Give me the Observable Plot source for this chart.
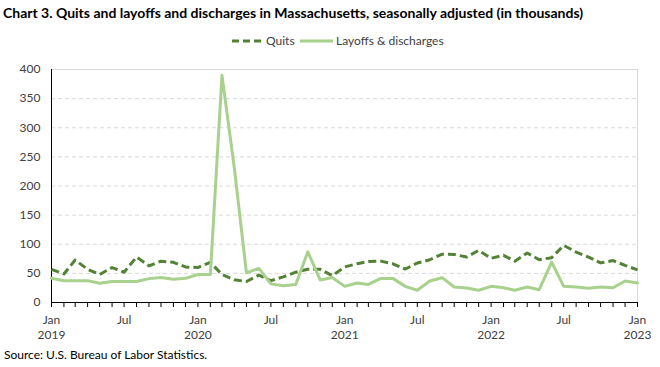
<!DOCTYPE html>
<html><head><meta charset="utf-8">
<script src="https://cdn.jsdelivr.net/npm/d3@7"></script>
<script src="https://cdn.jsdelivr.net/npm/@observablehq/plot@0.6"></script>
<style>
body{margin:0;background:#fff;}
#wrap{position:relative;width:660px;height:367px;font-family:Lato,"Open Sans",sans-serif;color:#404040;overflow:hidden;}
#title{position:absolute;left:3px;top:4px;font-size:14px;font-weight:bold;color:#000;white-space:nowrap;}
#legend{position:absolute;left:0;top:33px;width:660px;height:16px;}
#source{position:absolute;left:4px;top:347px;font-size:12px;color:#000;white-space:nowrap;}
#chart{position:absolute;left:0;top:0;}
</style></head><body>
<div id="wrap">
  <div id="chart"></div>
  <div id="title">Chart 3. Quits and layoffs and discharges in Massachusetts, seasonally adjusted (in thousands)</div>
  <div id="legend">
    <svg width="660" height="16" style="position:absolute;left:0;top:0">
      <line x1="232" x2="262" y1="8" y2="8" stroke="#548235" stroke-width="3" stroke-dasharray="7,4"/>
      <text x="266" y="12" font-size="12" fill="#404040" font-family="Lato">Quits</text>
      <line x1="300" x2="333" y1="8" y2="8" stroke="#A9D18E" stroke-width="3"/>
      <text x="336" y="12" font-size="12" fill="#404040" font-family="Lato">Layoffs &amp; discharges</text>
    </svg>
  </div>
  <div id="source">Source: U.S. Bureau of Labor Statistics.</div>
</div>
<script>
// Monthly, Jan 2019 .. Jan 2023 (thousands)
const quits = [57,49,73,57,48,60,52,78,63,71,69,61,
  60,69,48,39,36,47,37.5,44,52,57,57,46,
  61,66.5,70.5,71,66.5,57.5,67.7,73.4,83,82.6,78,89.4,
  76,81,71,85,73.5,77,98,86.6,78,68,72,63.7,
  56];
const layoffs = [41.5,37.5,37.5,37.5,33,36,36,36,41,43,40,41.5,
  48,48,390,230,51,58.5,32,28.6,31,87,38.6,43,
  27.7,33.4,31,41.4,41.4,27.7,21,37,42.6,26.6,25,21,
  27.7,25.4,21,26.6,22,69.4,27.7,26.6,24.3,26.6,25.4,37,
  33.4];
const yTicks = [0,50,100,150,200,250,300,350,400];
const start = new Date(Date.UTC(2019,0,1));
const end = new Date(Date.UTC(2023,0,1));
const months = d3.utcMonth.range(start, d3.utcMonth.offset(end,1));
const labelDates = d3.utcMonth.every(6).range(start, d3.utcMonth.offset(end,1));
const yearDates = labelDates.filter(d=>d.getUTCMonth()===0);
const data = months.map((d,i)=>({date:d, quits:quits[i], layoffs:layoffs[i]}));

const chart = Plot.plot({
  width:660, height:367,
  marginLeft:51, marginRight:23, marginTop:69, marginBottom:65,
  x:{type:"utc", domain:[start,end]},
  y:{domain:[0,400]},
  style:{fontFamily:"Lato, 'Open Sans', sans-serif", fontSize:"12px", color:"#404040", background:"transparent"},
  marks:[
    Plot.ruleY(yTicks.filter(d=>d>0&&d<400), {stroke:"#d9d9d9", strokeDasharray:"4,3"}),
    Plot.ruleY([400], {stroke:"#d9d9d9"}),
    Plot.ruleX([end], {stroke:"#d9d9d9"}),
    Plot.axisY({ticks:yTicks, tickSize:0, tickPadding:11, label:null}),
    Plot.axisX({ticks:months, tickSize:5, tickFormat:()=>"", label:null, stroke:"#000"}),
    Plot.axisX({ticks:labelDates, tickSize:0, tickPadding:13, label:null,
      tickFormat:d=>d.getUTCMonth()===0 ? "Jan" : "Jul"}),
    Plot.axisX({ticks:yearDates, tickSize:0, tickPadding:28, label:null,
      tickFormat:d=>String(d.getUTCFullYear())}),
    Plot.ruleY([0], {stroke:"#000"}),
    Plot.ruleX([start], {stroke:"#000"}),
    Plot.lineY(data, {x:"date", y:"quits", stroke:"#548235", strokeWidth:3, strokeDasharray:"8,4", strokeLinecap:"butt"}),
    Plot.lineY(data, {x:"date", y:"layoffs", stroke:"#A9D18E", strokeWidth:3})
  ]
});
document.getElementById("chart").appendChild(chart);
</script>
</body></html>
